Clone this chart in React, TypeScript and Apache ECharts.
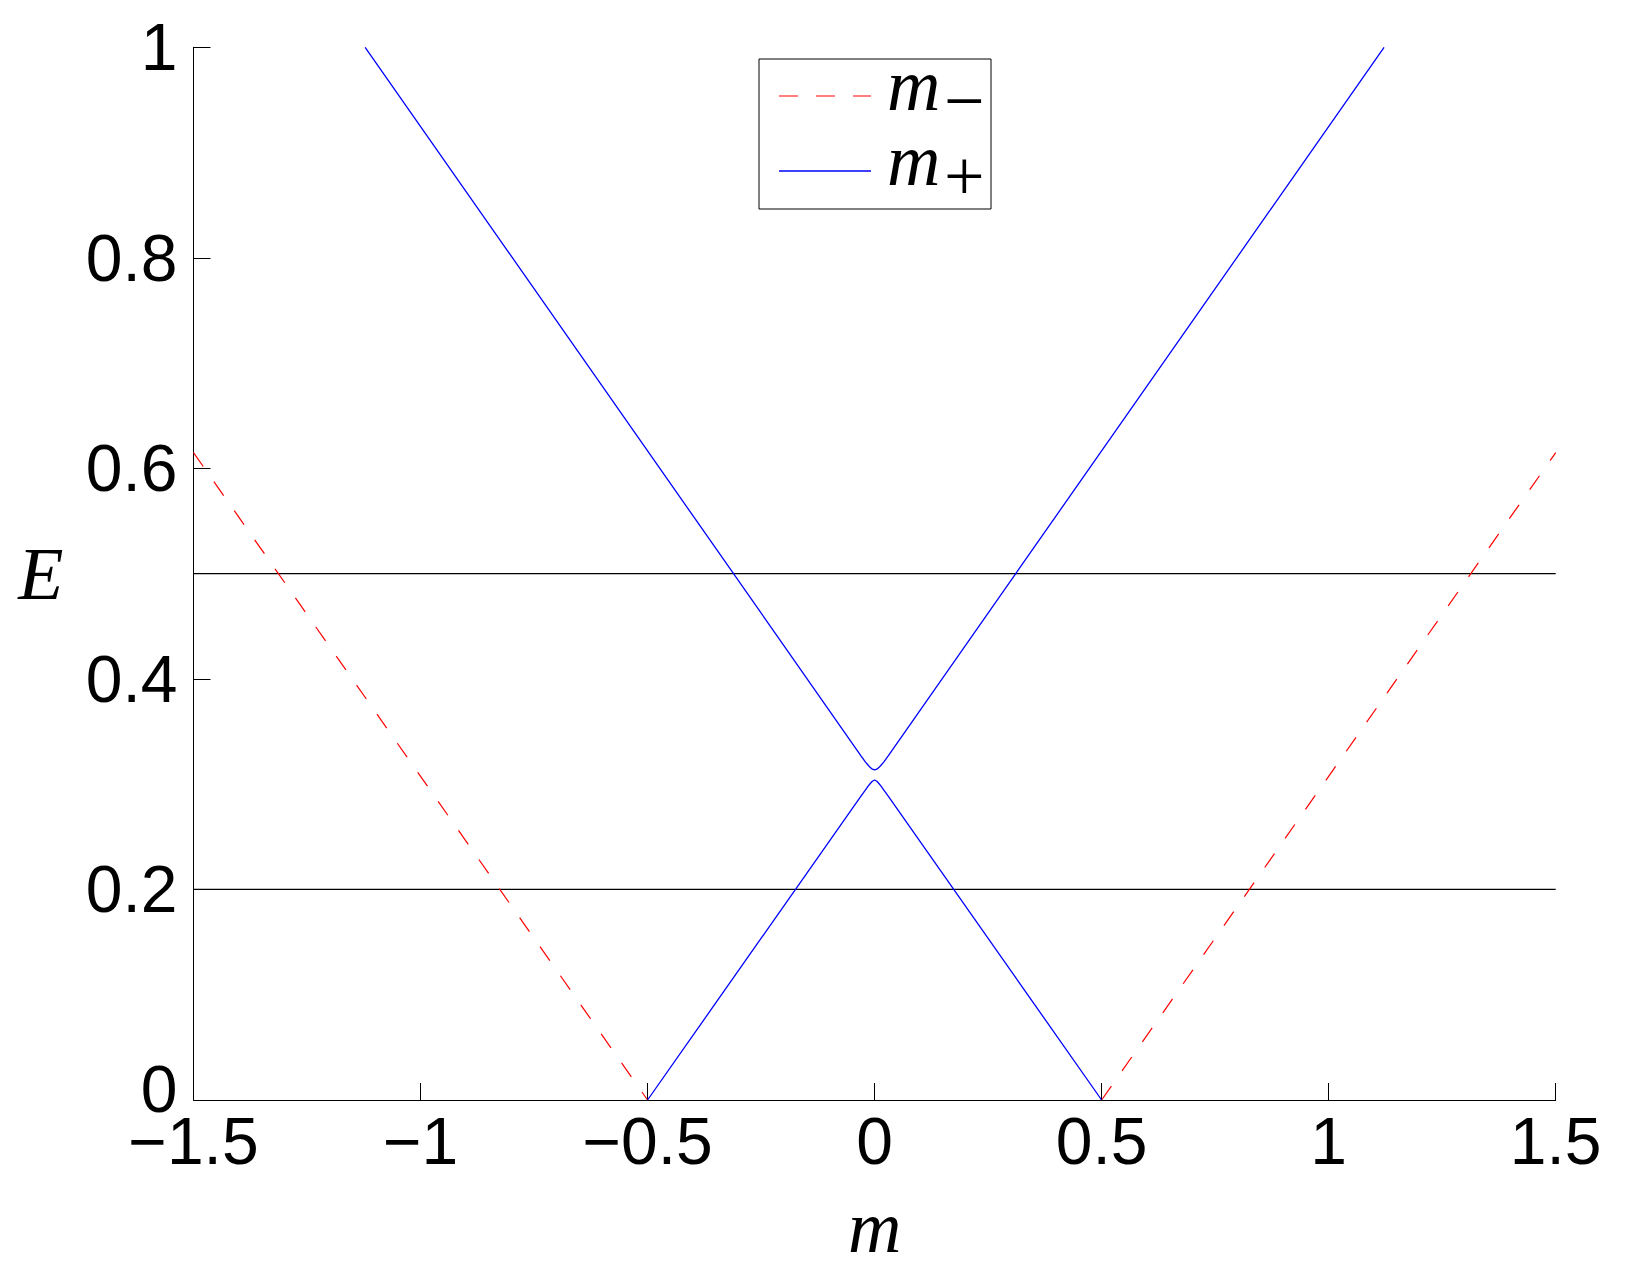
import * as echarts from "echarts";
import React, { useEffect, useRef } from "react";

// m (x) and E (y) values
const upperBranch: [number, number][] = [
  [-1.122, 1],
  [-0.03, 0.327],
  [-0.02, 0.321],
  [-0.015, 0.3185],
  [-0.01, 0.316],
  [-0.005, 0.3142],
  [0, 0.3135],
  [0.005, 0.3142],
  [0.01, 0.316],
  [0.015, 0.3185],
  [0.02, 0.321],
  [0.03, 0.327],
  [1.122, 1],
];
const lowerBranch: [number, number][] = [
  [-0.5, 0],
  [-0.03, 0.2887],
  [-0.02, 0.2947],
  [-0.015, 0.2977],
  [-0.01, 0.3004],
  [-0.005, 0.3028],
  [0, 0.304],
  [0.005, 0.3028],
  [0.01, 0.3004],
  [0.015, 0.2977],
  [0.02, 0.2947],
  [0.03, 0.2887],
  [0.5, 0],
];
const minusLeft: [number, number][] = [
  [-1.5, 0.615],
  [-0.5, 0],
];
const minusRight: [number, number][] = [
  [0.5, 0],
  [1.5, 0.615],
];
const levels = [0.2, 0.5];
const xRange = [-1.5, 1.5];
const legendSubs = ["−", "+"];

const RED = "#ff0000";
const BLUE = "#0000ff";

const tickFont = {
  fontFamily: "Liberation Sans",
  fontSize: 66,
  color: "#000",
};

const fmtNum = (v: number) => (v < 0 ? "−" + String(Math.abs(v)) : String(v));

const App: React.FC = () => {
  const chartRef = useRef<HTMLDivElement | null>(null);

  useEffect(() => {
    document.body.style.margin = "0";
    const chart = echarts.init(chartRef.current, null, { renderer: "svg" });

    const blue = { color: BLUE, width: 1.3, type: "solid" as const };
    const red = { color: RED, width: 1.2, type: [17, 18.5] };

    // legend box drawn by hand: m with a lowered subscript sign
    const legendRows = [
      { y: 96, stroke: RED, dash: [19, 18], width: 1.2 },
      { y: 171, stroke: BLUE, dash: null, width: 1.3 },
    ];
    const legendGraphic: any[] = [
      {
        type: "rect",
        shape: { x: 759, y: 59, width: 232, height: 150 },
        style: { fill: "#fff", stroke: "#000", lineWidth: 1 },
        z: 100,
      },
    ];
    legendRows.forEach((row, i) => {
      legendGraphic.push({
        type: "line",
        shape: { x1: 779, y1: row.y, x2: 871, y2: row.y },
        style: { stroke: row.stroke, lineWidth: row.width, lineDash: row.dash },
        z: 101,
      });
      legendGraphic.push({
        type: "text",
        x: 887,
        y: row.y - 11,
        style: {
          text: "m",
          font: "italic 74px 'Liberation Serif'",
          fill: "#000",
          align: "left",
          verticalAlign: "middle",
        },
        z: 101,
      });
      legendGraphic.push({
        type: "text",
        x: 944,
        y: row.y + 5,
        style: {
          text: legendSubs[i],
          font: "72px 'Liberation Serif'",
          fill: "#000",
          align: "left",
          verticalAlign: "middle",
        },
        z: 101,
      });
    });

    chart.setOption({
      animation: false,
      backgroundColor: "#fff",
      grid: { left: 193.5, right: 69.3, top: 47.3, bottom: 175, containLabel: false },
      xAxis: {
        type: "value",
        min: xRange[0],
        max: xRange[1],
        interval: 0.5,
        name: "m",
        nameLocation: "middle",
        nameGap: 90,
        nameTextStyle: {
          fontFamily: "Liberation Serif",
          fontStyle: "italic",
          fontSize: 74,
          color: "#000",
        },
        axisLine: { onZero: false, lineStyle: { color: "#000", width: 1 } },
        axisTick: { inside: true, length: 17, lineStyle: { color: "#000", width: 1 } },
        axisLabel: { ...tickFont, margin: 8, formatter: (v: number) => fmtNum(v) },
        splitLine: { show: false },
      },
      yAxis: {
        type: "value",
        min: 0,
        max: 1,
        interval: 0.2,
        name: "E",
        nameLocation: "middle",
        nameRotate: 0,
        nameGap: 130,
        nameTextStyle: {
          fontFamily: "Liberation Serif",
          fontStyle: "italic",
          fontSize: 74,
          color: "#000",
        },
        axisLine: { show: true, onZero: false, lineStyle: { color: "#000", width: 1 } },
        axisTick: { show: true, inside: true, length: 17, lineStyle: { color: "#000", width: 1 } },
        axisLabel: {
          ...tickFont,
          margin: 16,
          formatter: (v: number) => (v === 0 ? "{z|0}" : fmtNum(Math.round(v * 10) / 10)),
          rich: { z: { ...tickFont, lineHeight: 30, padding: [0, 0, 22, 0] } },
        },
        splitLine: { show: false },
      },
      graphic: legendGraphic,
      series: [
        ...levels.map((e) => ({
          name: "level",
          type: "line",
          data: xRange.map((m) => [m, e]),
          symbol: "none",
          lineStyle: { color: "#000", width: 1.2 },
          silent: true,
        })),
        { name: "m−", type: "line", data: minusLeft, symbol: "none", color: RED, lineStyle: red },
        { name: "m−", type: "line", data: minusRight, symbol: "none", color: RED, lineStyle: red },
        { name: "m+", type: "line", data: upperBranch, symbol: "none", color: BLUE, lineStyle: blue },
        { name: "m+", type: "line", data: lowerBranch, symbol: "none", color: BLUE, lineStyle: blue },
      ],
    });

    return () => {
      chart.dispose();
    };
  }, []);

  return <div ref={chartRef} style={{ width: "1625px", height: "1275px" }}></div>;
};

export default App;
